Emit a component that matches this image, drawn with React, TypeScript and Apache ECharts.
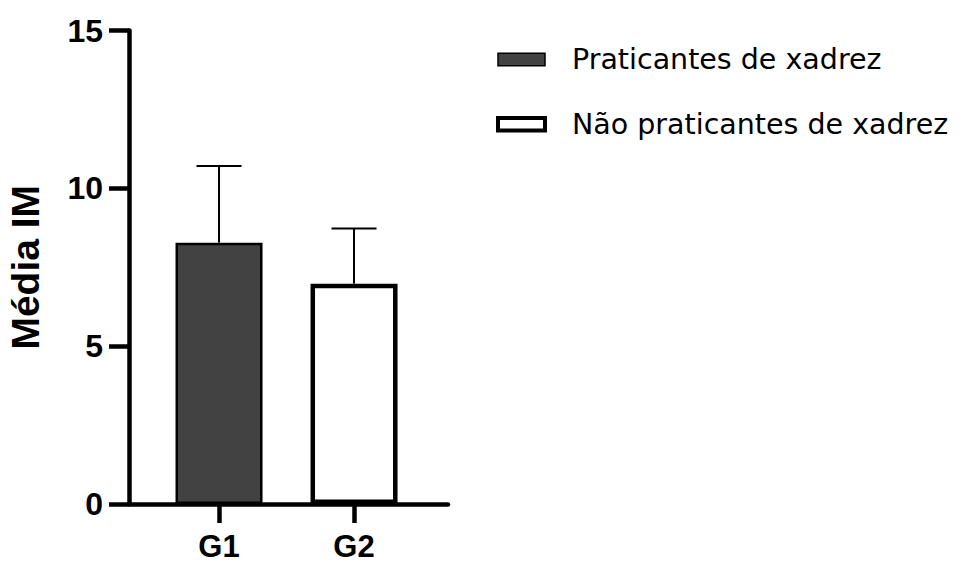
import React, { useEffect, useRef } from "react";
import * as echarts from "echarts";

const categories = ["G1", "G2"];
const seriesNames = ["Praticantes de xadrez", "Não praticantes de xadrez"];
const means = [8.28, 6.98];
const sds = [2.43, 1.75];
const yTicks = [0, 5, 10, 15];
const positions = [1, 2];

export default function App() {
  const ref = useRef<HTMLDivElement>(null);
  useEffect(() => {
    if (!ref.current) return;
    const chart = echarts.init(ref.current, undefined, { renderer: "svg" });
    const font = "'Liberation Sans', Arial, Helvetica, sans-serif";
    const legendFont = "'DejaVu Sans', sans-serif";
    const fills = ["#424242", "#ffffff"];
    const borders = [2.5, 4.5];
    const legendBorders = [1.5, 4];
    const option: any = {
      animation: false,
      backgroundColor: "#ffffff",
      grid: { left: 129, right: 513, top: 30.5, bottom: 59 },
      legend: {
        orient: "vertical",
        left: 491,
        top: 40,
        itemWidth: 47,
        itemHeight: 12.5,
        itemGap: 35.7,
        icon: "rect",
        data: seriesNames.map((name, i) => ({
          name,
          itemStyle: { color: fills[i], borderColor: "#000", borderWidth: legendBorders[i] },
        })),
        textStyle: {
          fontFamily: legendFont,
          fontSize: 28.5,
          color: "#000",
          lineHeight: 28,
          padding: [0, 0, 0, 22],
        },
        selectedMode: false,
      },
      xAxis: {
        type: "value",
        min: 0.3333,
        max: 2.696,
        splitLine: { show: false },
        axisLine: { show: true, lineStyle: { color: "#000", width: 4.5 } },
        axisTick: {
          show: true,
          customValues: positions,
          length: 19,
          lineStyle: { color: "#000", width: 4.5 },
        },
        axisLabel: {
          customValues: positions,
          formatter: (v: number) => categories[Math.round(v) - 1] ?? "",
          fontFamily: font,
          fontSize: 31,
          fontWeight: "bold",
          color: "#000",
          margin: 26.5,
        },
      },
      yAxis: {
        type: "value",
        min: 0,
        max: 15,
        interval: 5,
        name: "Média IM",
        nameLocation: "middle",
        nameGap: 84,
        nameTextStyle: {
          fontFamily: font,
          fontSize: 39,
          fontWeight: "bold",
          color: "#000",
        },
        splitLine: { show: false },
        axisLine: { show: true, lineStyle: { color: "#000", width: 4.5 } },
        axisTick: { show: true, length: 20, lineStyle: { color: "#000", width: 4.5 } },
        axisLabel: {
          fontFamily: font,
          fontSize: 32,
          fontWeight: "bold",
          color: "#000",
          margin: 26,
          formatter: (v: number) => (yTicks.includes(v) ? String(v) : ""),
        },
      },
      series: [
        ...seriesNames.map((name, i) => ({
          name,
          type: "bar",
          barWidth: 87,
          barGap: "-100%",
          data: [[positions[i], means[i]]],
          itemStyle: {
            color: fills[i],
            borderColor: "#000",
            borderWidth: borders[i],
          },
          z: 2,
        })),
        {
          name: "erro",
          type: "custom",
          z: 3,
          data: means.map((m, i) => [positions[i], m, m + sds[i]]),
          renderItem: (params: any, api: any) => {
            const x = api.value(0);
            const lo = api.coord([x, api.value(1)]);
            const hi = api.coord([x, api.value(2)]);
            return {
              type: "group",
              children: [
                {
                  type: "line",
                  shape: { x1: lo[0], y1: lo[1], x2: hi[0], y2: hi[1] },
                  style: { stroke: "#000", lineWidth: 2 },
                },
                {
                  type: "line",
                  shape: { x1: hi[0] - 22.5, y1: hi[1], x2: hi[0] + 22.5, y2: hi[1] },
                  style: { stroke: "#000", lineWidth: 2 },
                },
              ],
            };
          },
        },
      ],
    };
    chart.setOption(option);
    return () => chart.dispose();
  }, []);
  return (
    <div
      ref={ref}
      style={{ position: "fixed", left: 0, top: 0, width: 961, height: 563, background: "#fff" }}
    />
  );
}
